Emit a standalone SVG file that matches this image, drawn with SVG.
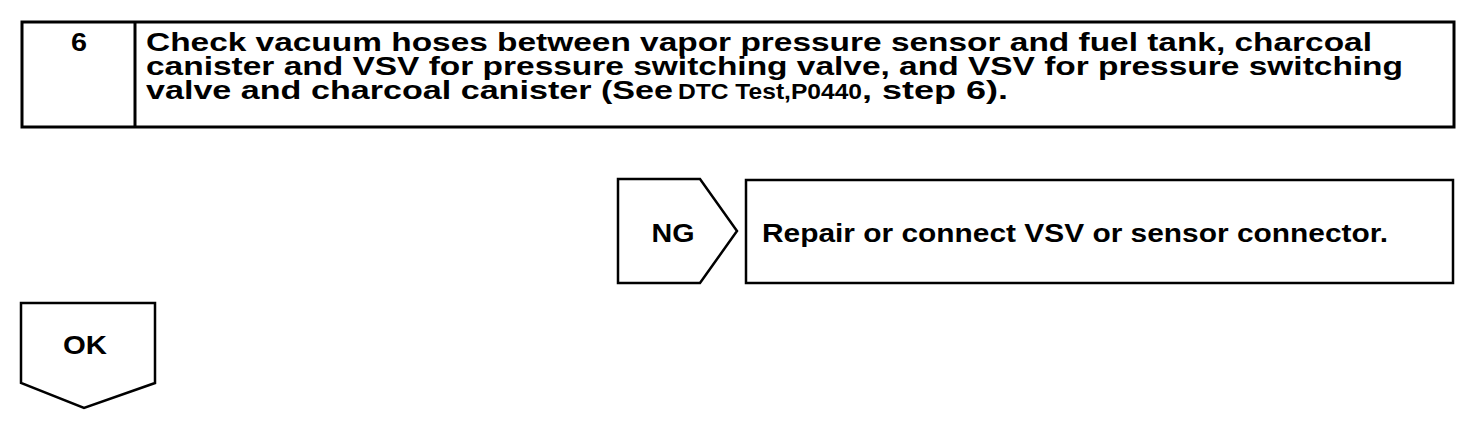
<svg xmlns="http://www.w3.org/2000/svg" width="1472" height="424" viewBox="0 0 1472 424">
<style>
.t{font-family:"Liberation Sans",Arial,sans-serif;font-weight:bold;font-size:25px;fill:#000}
.s{font-family:"Liberation Sans",Arial,sans-serif;font-weight:bold;font-size:22px;fill:#000}
.box{fill:#fff;stroke:#000;stroke-width:3}
.shape{fill:#fff;stroke:#000;stroke-width:2.5;stroke-linejoin:miter}
</style>
<rect width="1472" height="424" fill="#fff"/>
<g id="step6">
<rect class="box" x="22" y="22" width="1432" height="105"/>
<line x1="135" y1="22" x2="135" y2="127" stroke="#000" stroke-width="3"/>
<text class="t" x="79" y="51" text-anchor="middle" textLength="16" lengthAdjust="spacingAndGlyphs">6</text>
<text class="t" x="146" y="51" textLength="1226" lengthAdjust="spacingAndGlyphs">Check vacuum hoses between vapor pressure sensor and fuel tank, charcoal</text>
<text class="t" x="146" y="75" textLength="1257" lengthAdjust="spacingAndGlyphs">canister and VSV for pressure switching valve, and VSV for pressure switching</text>
<text class="t" x="146" y="99" textLength="527" lengthAdjust="spacingAndGlyphs">valve and charcoal canister (See</text>
<text class="s" x="678" y="99" textLength="184" lengthAdjust="spacingAndGlyphs">DTC Test,P0440</text>
<text class="t" x="862" y="99" textLength="146" lengthAdjust="spacingAndGlyphs">, step 6).</text>
</g>
<g id="ng">
<polygon class="shape" points="618,179 700,179 737,231 700,283 618,283"/>
<text class="t" x="673" y="242" text-anchor="middle" textLength="43" lengthAdjust="spacingAndGlyphs">NG</text>
</g>
<g id="repair">
<rect class="shape" x="746" y="180" width="707" height="103"/>
<text class="t" x="762" y="242" textLength="626" lengthAdjust="spacingAndGlyphs">Repair or connect VSV or sensor connector.</text>
</g>
<g id="ok">
<polygon class="shape" points="21,303 155,303 155,383 84,408 21,383"/>
<text class="t" x="85" y="354" text-anchor="middle" textLength="44" lengthAdjust="spacingAndGlyphs">OK</text>
</g>
<g id="connectors"></g>
</svg>
